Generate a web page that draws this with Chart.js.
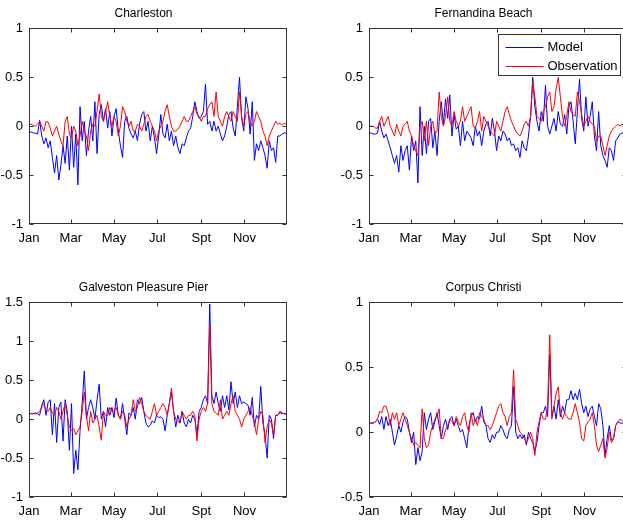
<!DOCTYPE html>
<html>
<head>
<meta charset="utf-8">
<script src="https://cdn.jsdelivr.net/npm/chart.js@4.4.0/dist/chart.umd.min.js"></script>
<style>
  html, body { margin: 0; padding: 0; background: #fff; overflow: hidden; width: 623px; height: 521px; }
  canvas { position: absolute; }
</style>
</head>
<body>
<canvas id="charleston" width="300" height="250" style="left:0;top:0"></canvas>
<canvas id="fernandina" width="300" height="250" style="left:340px;top:0"></canvas>
<canvas id="galveston" width="300" height="259" style="left:0;top:262px"></canvas>
<canvas id="corpus" width="300" height="259" style="left:340px;top:262px"></canvas>
<script>
// sampled every 3rd day of the year
const days = [1,4,7,10,13,16,19,22,25,28,31,34,37,40,43,46,49,52,55,58,61,64,67,70,73,76,79,82,85,88,
  91,94,97,100,103,106,109,112,115,118,121,124,127,130,133,136,139,142,145,148,151,154,157,160,163,166,169,172,175,178,
  181,184,187,190,193,196,199,202,205,208,211,214,217,220,223,226,229,232,235,238,241,244,247,250,253,256,259,262,265,268,
  271,274,277,280,283,286,289,292,295,298,301,304,307,310,313,316,319,322,325,328,331,334,337,340,343,346,349,352,355,358,
  361,364];

const monthDays = [1, 60, 121, 182, 244, 305];
const monthLabels = ["Jan", "Mar", "May", "Jul", "Spt", "Nov"];

const charlestonModel = [-0.06,-0.06,-0.07,-0.07,-0.08,0.06,-0.10,-0.18,-0.12,-0.22,
  -0.15,-0.32,-0.48,-0.30,-0.55,-0.40,-0.20,-0.38,-0.10,-0.45,
  0.00,-0.42,-0.08,-0.60,0.20,-0.15,0.05,-0.30,-0.05,0.10,
  -0.15,0.25,-0.28,0.12,0.22,0.05,0.18,-0.02,0.15,-0.10,
  0.10,0.18,-0.05,-0.20,-0.32,0.05,0.10,-0.02,-0.08,-0.12,
  -0.05,-0.15,0.02,0.12,0.15,-0.05,0.05,-0.15,0.00,-0.12,
  -0.28,-0.10,0.12,-0.08,-0.12,0.02,-0.15,-0.05,-0.20,-0.10,
  -0.22,-0.28,-0.18,-0.20,-0.12,-0.05,-0.02,0.10,0.25,0.15,
  0.08,0.10,0.15,0.43,0.02,0.05,-0.05,0.05,-0.05,0.00,
  -0.08,-0.15,-0.10,0.00,0.12,0.15,-0.02,-0.10,0.20,0.50,
  0.08,-0.05,0.30,0.18,-0.08,0.25,-0.35,-0.18,-0.25,-0.15,
  -0.22,-0.30,-0.43,-0.15,-0.25,-0.22,-0.37,-0.10,-0.10,-0.08,
  -0.07,-0.07];
const charlestonObs = [0.02,0.02,0.01,0.00,0.02,0.05,0.00,-0.05,0.05,0.04,
  -0.02,-0.10,-0.05,0.00,-0.08,-0.15,-0.20,0.05,0.10,-0.08,
  -0.12,0.00,-0.05,-0.20,-0.10,0.05,-0.05,-0.10,-0.25,-0.05,
  0.02,0.00,0.15,0.33,0.10,0.05,0.15,0.25,0.10,0.00,
  0.10,0.05,-0.10,0.00,0.20,0.15,0.05,0.00,0.05,-0.05,
  -0.05,0.02,0.00,-0.05,0.02,0.10,0.12,0.05,0.00,-0.05,
  -0.15,-0.05,0.00,0.05,0.15,0.22,0.10,0.00,-0.05,-0.05,
  -0.03,0.00,0.05,0.10,0.05,0.05,0.10,0.15,0.20,0.12,
  0.10,0.05,0.10,0.10,0.18,0.22,0.25,0.10,0.35,0.10,
  0.05,0.00,0.10,0.15,0.10,0.05,0.15,0.10,0.05,0.35,
  0.10,0.00,0.12,0.15,0.05,0.00,0.05,0.15,0.10,0.05,
  -0.05,-0.10,-0.20,-0.10,-0.05,0.00,0.05,0.02,0.03,0.01,
  0.03,0.02];

const fernandinaModel = [-0.07,-0.07,-0.08,-0.08,-0.07,0.05,-0.05,-0.12,-0.08,-0.15,
  -0.22,-0.30,-0.38,-0.30,-0.47,-0.20,-0.35,-0.25,-0.20,-0.45,
  -0.10,-0.25,-0.15,-0.58,0.20,-0.30,0.00,-0.28,0.05,0.08,
  -0.22,-0.05,-0.30,0.05,0.25,0.02,0.28,0.08,0.32,-0.10,
  0.12,-0.03,0.00,-0.20,0.05,-0.15,-0.05,-0.08,-0.12,-0.20,
  0.00,-0.10,-0.05,-0.20,-0.05,0.02,0.05,-0.10,0.08,-0.05,
  -0.25,-0.10,-0.15,-0.05,-0.08,-0.15,-0.12,-0.20,-0.18,-0.25,
  -0.22,-0.32,-0.15,-0.22,-0.25,-0.10,0.10,0.50,0.20,0.05,
  -0.05,0.15,0.05,0.42,0.00,-0.08,0.00,0.08,-0.05,0.15,
  0.02,0.00,0.12,-0.08,0.20,0.25,0.05,-0.18,0.15,0.48,
  0.08,-0.05,0.30,0.00,0.10,0.25,-0.10,-0.25,0.15,-0.20,
  -0.30,-0.35,-0.42,-0.22,-0.25,-0.35,-0.15,-0.12,-0.08,-0.07,
  -0.07,-0.07];
const fernandinaObs = [0.00,0.00,0.00,-0.02,-0.02,0.05,0.10,0.00,0.05,0.10,
  0.00,-0.05,-0.10,0.02,-0.05,-0.10,0.00,0.02,0.05,-0.05,
  -0.10,-0.20,-0.25,-0.30,0.00,0.05,-0.15,0.05,-0.20,0.00,
  0.05,-0.08,-0.05,0.35,0.10,0.00,0.10,0.30,0.05,0.00,
  0.15,0.05,0.00,0.05,0.20,0.05,0.10,0.15,0.20,0.00,
  -0.02,0.05,0.15,-0.05,0.10,0.05,0.00,-0.05,-0.08,-0.10,
  0.05,0.00,-0.05,0.05,0.15,0.20,0.12,0.05,0.00,-0.05,
  -0.08,-0.10,-0.05,0.02,0.05,0.00,0.10,0.45,0.30,0.10,
  0.08,0.05,0.15,0.20,0.30,0.35,0.15,0.20,0.38,0.50,
  0.30,0.10,0.00,0.10,0.25,0.15,0.12,0.10,0.35,0.25,
  0.12,0.00,0.05,0.10,0.05,0.02,0.00,-0.15,-0.10,-0.10,
  -0.20,-0.30,-0.20,-0.10,-0.05,-0.02,0.00,0.02,0.00,0.02,
  0.00,0.00];

const galvestonModel = [0.07,0.07,0.07,0.08,0.07,0.05,0.18,0.25,0.05,0.22,
  0.25,-0.20,0.20,-0.30,0.15,0.22,-0.28,0.25,0.10,-0.40,
  0.20,-0.70,-0.40,-0.65,-0.15,0.20,0.62,0.00,0.15,0.25,
  0.15,0.00,0.25,0.45,0.00,0.10,-0.10,0.15,0.05,0.15,
  0.02,0.27,0.05,0.00,0.20,0.00,-0.20,0.08,0.05,0.15,
  0.00,0.25,0.20,0.28,0.10,-0.05,-0.10,-0.08,-0.02,-0.05,
  0.05,0.02,0.03,0.00,-0.15,0.05,0.20,0.35,0.10,-0.10,
  0.05,-0.05,0.10,-0.05,-0.10,0.00,-0.05,0.05,0.00,-0.20,
  0.10,0.15,0.25,0.30,0.20,1.48,0.30,0.20,0.35,0.20,
  0.10,0.30,0.15,0.30,0.12,0.48,0.20,0.35,0.15,0.30,
  0.20,0.22,0.20,0.18,0.05,0.28,-0.10,0.05,0.00,0.42,
  -0.05,-0.20,-0.50,0.05,0.00,-0.25,0.05,0.05,0.10,0.08,
  0.07,0.07];
const galvestonObs = [0.07,0.07,0.07,0.07,0.08,0.10,0.15,0.20,0.12,0.10,
  0.15,0.08,0.05,0.15,0.10,0.00,0.10,0.20,0.05,-0.10,
  -0.15,-0.12,-0.20,-0.15,-0.10,0.10,0.35,0.05,-0.15,0.10,
  -0.05,0.00,0.05,-0.10,-0.27,0.10,0.05,0.05,0.15,0.10,
  0.10,0.15,0.05,0.00,0.10,0.05,-0.10,0.00,0.05,0.25,
  0.10,0.15,0.28,0.20,0.10,0.05,0.02,0.00,0.10,0.20,
  0.05,0.10,0.15,0.20,0.15,0.05,0.20,0.40,0.10,0.00,
  -0.03,-0.05,0.10,0.05,0.00,0.05,0.05,0.10,0.05,-0.28,
  0.00,0.10,0.15,0.10,0.20,1.20,0.20,0.10,0.08,0.05,
  0.25,0.00,0.05,0.10,0.05,0.20,0.30,0.10,0.05,0.00,
  -0.10,0.00,0.05,0.10,0.15,0.05,-0.05,-0.20,0.00,0.10,
  0.05,-0.30,-0.10,0.00,-0.05,-0.20,0.05,0.05,0.08,0.07,
  0.07,0.06];

const corpusModel = [0.07,0.07,0.07,0.08,0.10,0.06,0.12,0.02,0.12,0.05,
  0.10,0.00,-0.10,-0.03,0.05,0.00,0.08,0.12,0.10,0.00,
  -0.08,0.00,-0.25,-0.12,-0.22,-0.15,0.15,0.02,0.10,0.15,
  0.02,0.08,0.15,0.05,-0.05,0.05,0.10,0.02,0.10,0.12,
  0.05,0.10,0.05,0.00,0.02,-0.05,-0.12,0.05,0.12,0.15,
  0.08,0.12,0.10,0.20,0.08,0.05,-0.05,-0.08,-0.02,-0.05,
  0.00,0.00,0.05,0.02,-0.03,-0.05,0.02,0.05,0.35,0.00,
  -0.05,-0.02,-0.05,-0.02,-0.10,0.00,-0.05,-0.08,-0.15,-0.08,
  0.05,0.15,0.15,0.20,0.12,0.60,0.12,0.20,0.10,0.25,
  0.12,0.20,0.15,0.25,0.25,0.32,0.25,0.30,0.25,0.33,
  0.22,0.15,0.20,0.12,0.18,0.20,0.12,0.05,0.22,0.18,
  0.05,-0.18,-0.05,0.05,-0.06,-0.05,0.05,0.08,0.07,0.07,
  0.06,0.05];
const corpusObs = [0.07,0.07,0.07,0.08,0.10,0.16,0.15,0.20,0.20,0.15,
  0.05,0.15,0.10,0.15,0.05,0.10,0.15,0.10,0.05,0.00,
  -0.05,-0.10,-0.08,-0.10,-0.12,0.18,-0.05,-0.12,-0.10,0.00,
  0.05,0.10,0.12,0.18,-0.05,-0.05,0.02,0.05,0.10,0.08,
  0.05,0.12,0.08,0.05,0.12,0.15,0.05,0.00,0.15,0.05,
  0.10,0.05,0.15,0.12,0.10,0.05,0.05,0.02,0.05,0.10,
  0.15,0.20,0.22,0.15,0.12,0.05,0.12,0.15,0.48,0.10,
  0.05,0.00,-0.02,-0.05,-0.08,-0.05,0.00,-0.05,-0.18,0.00,
  0.08,0.15,0.10,0.10,0.20,0.75,0.10,0.20,0.30,0.35,
  0.15,0.10,0.15,0.12,0.10,0.10,0.15,0.22,0.15,0.08,
  -0.05,-0.07,0.05,0.08,0.10,0.15,0.05,-0.10,-0.15,-0.10,
  -0.05,-0.20,-0.12,0.00,-0.08,-0.05,0.05,0.08,0.10,0.09,
  0.08,0.08];

const fontFamily = "'Liberation Sans', Arial, Helvetica, sans-serif";
const axisColor = "#333333";

// box round the axes with inward tick marks on all four sides, like matlab
const boxPlugin = {
  id: "matlabBox",
  afterDatasetsDraw(chart) {
    const { ctx, chartArea: a, scales } = chart;
    const L = Math.round(a.left) + 0.5, R = Math.round(a.right) - 0.5;
    const T = Math.round(a.top) + 0.5, B = Math.round(a.bottom) - 0.5;
    ctx.save();
    ctx.strokeStyle = axisColor;
    ctx.lineWidth = 1;
    ctx.strokeRect(L, T, R - L, B - T);
    ctx.beginPath();
    scales.x.ticks.forEach((t) => {
      const px = Math.round(scales.x.getPixelForValue(t.value)) + 0.5;
      ctx.moveTo(px, B); ctx.lineTo(px, B - 4);
      ctx.moveTo(px, T); ctx.lineTo(px, T + 4);
    });
    scales.y.ticks.forEach((t) => {
      const py = Math.round(scales.y.getPixelForValue(t.value)) + 0.5;
      ctx.moveTo(L, py); ctx.lineTo(L + 4, py);
      ctx.moveTo(R, py); ctx.lineTo(R - 4, py);
    });
    ctx.stroke();

    if (chart.options.plugins.matlabBox && chart.options.plugins.matlabBox.legend) {
      const w = 122, h = 41;
      const x0 = Math.round(a.right) - 7 - w + 0.5, y0 = Math.round(a.top) + 6 + 0.5;
      ctx.fillStyle = "#fff";
      ctx.fillRect(x0, y0, w, h);
      ctx.strokeStyle = axisColor;
      ctx.strokeRect(x0, y0, w, h);
      ctx.font = "13px " + fontFamily;
      ctx.textBaseline = "middle";
      ctx.textAlign = "left";
      chart.data.datasets.forEach((ds, i) => {
        const y = y0 + 13 + i * 19;
        ctx.strokeStyle = ds.borderColor;
        ctx.beginPath();
        ctx.moveTo(x0 + 7, y); ctx.lineTo(x0 + 45, y);
        ctx.stroke();
        ctx.fillStyle = "#000";
        ctx.fillText(ds.label, x0 + 49, y);
      });
    }
    ctx.restore();
  },
};

function pts(values) {
  return days.map((d, i) => ({ x: d, y: values[i] }));
}

function makeChart(id, title, model, obs, yMin, yMax, titlePad, xHeight, legend) {
  return new Chart(document.getElementById(id), {
    type: "line",
    data: {
      datasets: [
        { label: "Model", data: pts(model), borderColor: "#0000ff", borderWidth: 1, pointRadius: 0, order: 1 },
        { label: "Observation", data: pts(obs), borderColor: "#ff0000", borderWidth: 1, pointRadius: 0, order: 0 },
      ],
    },
    options: {
      responsive: false,
      animation: false,
      events: [],
      layout: { padding: { left: 0, right: 13, top: 0, bottom: 0 } },
      plugins: {
        legend: { display: false },
        tooltip: { enabled: false },
        matlabBox: { legend: legend },
        title: {
          display: true,
          text: title,
          color: "#000",
          font: { family: fontFamily, size: 12, weight: "normal" },
          padding: titlePad,
        },
      },
      scales: {
        x: {
          type: "linear",
          min: 1,
          max: 365,
          afterBuildTicks: (s) => { s.ticks = monthDays.map((v) => ({ value: v })); },
          afterFit: (s) => { s.height = xHeight; },
          grid: { display: false, drawTicks: false },
          border: { display: false },
          ticks: {
            autoSkip: false,
            maxRotation: 0,
            padding: 7,
            color: "#000",
            font: { family: fontFamily, size: 13 },
            callback: (v) => monthLabels[monthDays.indexOf(v)],
          },
        },
        y: {
          min: yMin,
          max: yMax,
          afterFit: (s) => { s.width = 29; },
          grid: { display: false, drawTicks: false },
          border: { display: false },
          ticks: {
            stepSize: 0.5,
            padding: 6,
            color: "#000",
            font: { family: fontFamily, size: 13 },
            callback: (v) => String(v),
          },
        },
      },
    },
    plugins: [boxPlugin],
  });
}

makeChart("charleston", "Charleston", charlestonModel, charlestonObs, -1, 1, { top: 6, bottom: 8 }, 26, false);
makeChart("fernandina", "Fernandina Beach", fernandinaModel, fernandinaObs, -1, 1, { top: 6, bottom: 8 }, 26, true);
makeChart("galveston", "Galveston Pleasure Pier", galvestonModel, galvestonObs, -1, 1.5, { top: 18, bottom: 8 }, 24, false);
makeChart("corpus", "Corpus Christi", corpusModel, corpusObs, -0.5, 1, { top: 18, bottom: 8 }, 24, false);
</script>
</body>
</html>
